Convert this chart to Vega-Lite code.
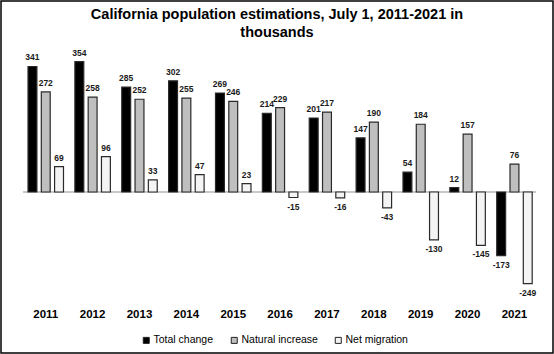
{
  "$schema": "https://vega.github.io/schema/vega-lite/v6.json",
  "autosize": {"type": "none"},
  "padding": 1,
  "width": 552,
  "height": 352,
  "background": "#ffffff",
  "title": {
    "text": ["California population estimations, July 1, 2011-2021 in", "thousands"],
    "anchor": "middle",
    "frame": "group",
    "font": "Liberation Sans",
    "fontSize": 14.5,
    "fontWeight": "bold",
    "color": "#000000",
    "lineHeight": 18,
    "offset": -39
  },
  "config": {
    "view": {"stroke": "#000000", "strokeWidth": 1.5},
    "font": "Liberation Sans"
  },
  "data": {
    "values": [
      {"year": "2011", "series": "Total change", "value": 341},
      {"year": "2011", "series": "Natural increase", "value": 272},
      {"year": "2011", "series": "Net migration", "value": 69},
      {"year": "2012", "series": "Total change", "value": 354},
      {"year": "2012", "series": "Natural increase", "value": 258},
      {"year": "2012", "series": "Net migration", "value": 96},
      {"year": "2013", "series": "Total change", "value": 285},
      {"year": "2013", "series": "Natural increase", "value": 252},
      {"year": "2013", "series": "Net migration", "value": 33},
      {"year": "2014", "series": "Total change", "value": 302},
      {"year": "2014", "series": "Natural increase", "value": 255},
      {"year": "2014", "series": "Net migration", "value": 47},
      {"year": "2015", "series": "Total change", "value": 269},
      {"year": "2015", "series": "Natural increase", "value": 246},
      {"year": "2015", "series": "Net migration", "value": 23},
      {"year": "2016", "series": "Total change", "value": 214},
      {"year": "2016", "series": "Natural increase", "value": 229},
      {"year": "2016", "series": "Net migration", "value": -15},
      {"year": "2017", "series": "Total change", "value": 201},
      {"year": "2017", "series": "Natural increase", "value": 217},
      {"year": "2017", "series": "Net migration", "value": -16},
      {"year": "2018", "series": "Total change", "value": 147},
      {"year": "2018", "series": "Natural increase", "value": 190},
      {"year": "2018", "series": "Net migration", "value": -43},
      {"year": "2019", "series": "Total change", "value": 54},
      {"year": "2019", "series": "Natural increase", "value": 184},
      {"year": "2019", "series": "Net migration", "value": -130},
      {"year": "2020", "series": "Total change", "value": 12},
      {"year": "2020", "series": "Natural increase", "value": 157},
      {"year": "2020", "series": "Net migration", "value": -145},
      {"year": "2021", "series": "Total change", "value": -173},
      {"year": "2021", "series": "Natural increase", "value": 76},
      {"year": "2021", "series": "Net migration", "value": -249}
    ]
  },
  "encoding": {
    "x": {
      "field": "year",
      "type": "nominal",
      "scale": {"paddingInner": 0.243, "paddingOuter": 0.51, "align": 0.565},
      "axis": {
        "title": null,
        "orient": "bottom",
        "labelAngle": 0,
        "labelFontWeight": "bold",
        "labelFontSize": 11.5,
        "labelColor": "#000000",
        "labelFont": "Liberation Sans",
        "domain": false,
        "ticks": false,
        "labelPadding": 0,
        "offset": -45
      }
    },
    "xOffset": {
      "field": "series",
      "type": "nominal",
      "sort": ["Total change", "Natural increase", "Net migration"],
      "scale": {"paddingInner": 0.33, "paddingOuter": 0}
    },
    "y": {
      "field": "value",
      "type": "quantitative",
      "scale": {"domain": [-437.4, 518.9], "nice": false, "zero": false},
      "axis": null
    }
  },
  "layer": [
    {
      "mark": {"type": "rule", "color": "#c8c8c8", "strokeWidth": 1.2},
      "encoding": {
        "x": {"datum": "2011", "type": "nominal", "bandPosition": -0.14},
        "x2": {"datum": "2021", "bandPosition": 1.1},
        "xOffset": null,
        "y": {"datum": 0, "type": "quantitative"}
      }
    },
    {
      "mark": {"type": "bar", "stroke": "#2a2a2a", "strokeWidth": 1.2},
      "encoding": {
        "y2": {"datum": 0},
        "color": {
          "field": "series",
          "type": "nominal",
          "sort": ["Total change", "Natural increase", "Net migration"],
          "scale": {
            "domain": ["Total change", "Natural increase", "Net migration"],
            "range": ["#000000", "#bfbfbf", "#f4f4f4"]
          },
          "legend": {
            "title": null,
            "orient": "none",
            "direction": "horizontal",
            "legendX": 140,
            "legendY": 334,
            "symbolType": "square",
            "symbolSize": 36,
            "symbolStrokeColor": "#222222",
            "symbolStrokeWidth": 1,
            "labelFontSize": 10.5,
            "labelColor": "#000000",
            "labelFont": "Liberation Sans",
            "labelOffset": 2,
            "columnPadding": 15
          }
        }
      }
    },
    {
      "transform": [{"filter": "datum.value >= 0"}],
      "mark": {"type": "text", "baseline": "bottom", "dy": -4, "fontSize": 8.5, "fontWeight": "bold", "color": "#1a1a1a"},
      "encoding": {"text": {"field": "value", "type": "nominal"}}
    },
    {
      "transform": [{"filter": "datum.value < 0"}],
      "mark": {"type": "text", "baseline": "top", "dy": 5, "fontSize": 8.5, "fontWeight": "bold", "color": "#1a1a1a"},
      "encoding": {"text": {"field": "value", "type": "nominal"}}
    }
  ]
}
